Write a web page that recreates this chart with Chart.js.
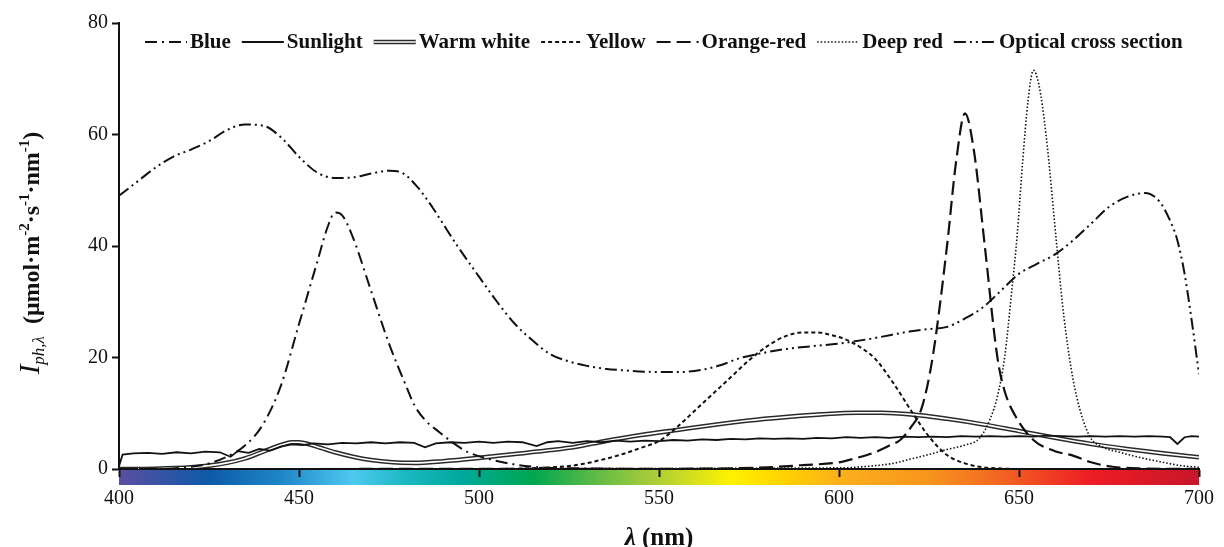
<!DOCTYPE html>
<html>
<head>
<meta charset="utf-8">
<script src="https://cdn.jsdelivr.net/npm/chart.js@4.4.1/dist/chart.umd.min.js"></script>
<style>
  html, body { margin: 0; padding: 0; background: #fff; }
  #wrap { width: 1224px; height: 547px; }
</style>
</head>
<body>
<div id="wrap"><canvas id="spectra" width="1224" height="547"></canvas></div>
<script>
// wavelength ticks
const xTicks = [400, 450, 500, 550, 600, 650, 700];
const yTicks = [0, 20, 40, 60, 80];

// series (nm, value)
const blueNm = [400, 410, 415, 420, 425, 430, 435, 440, 445, 450, 455, 458, 460, 462, 465, 470, 475, 480, 482, 485, 489, 493, 497, 504, 510, 515, 520, 530, 545, 560, 600, 700];
const blueVal = [0, 0, 0.1, 0.4, 1.0, 2.2, 4.2, 8, 15, 26, 37, 43.5, 46, 45.5, 41.5, 32, 22.5, 14.5, 11.5, 8.8, 6.6, 4.6, 3.0, 1.6, 0.8, 0.4, 0.2, 0.1, 0, 0, 0, 0];

const sunNm = [400, 401, 404, 408, 412, 416, 420, 424, 428, 431, 433, 436, 439, 442, 445, 448, 451, 454, 458, 462, 466, 470, 474, 478, 482, 485, 488, 492, 496, 500, 504, 508, 512, 516, 519, 522, 526, 530, 534, 538, 542, 546, 550, 554, 558, 562, 566, 570, 574, 578, 582, 586, 590, 594, 598, 602, 606, 610, 614, 618, 622, 626, 630, 634, 638, 642, 646, 650, 654, 658, 662, 666, 670, 674, 678, 682, 686, 690, 692, 694, 696, 698, 700];
const sunVal = [0.5, 2.6, 2.8, 2.9, 2.7, 3.0, 2.8, 3.1, 3.0, 2.2, 3.2, 2.9, 3.6, 3.3, 4.0, 4.4, 4.3, 4.6, 4.4, 4.7, 4.6, 4.8, 4.6, 4.8, 4.7, 3.9, 4.6, 4.8, 4.7, 4.9, 4.7, 4.9, 4.8, 4.1, 4.8, 5.0, 4.7, 5.0, 4.8, 5.1, 4.9, 5.1, 5.0, 5.2, 5.1, 5.3, 5.2, 5.4, 5.3, 5.5, 5.4, 5.5, 5.4, 5.6, 5.5, 5.7, 5.6, 5.7, 5.6, 5.8, 5.7, 5.8, 5.7, 5.9, 5.8, 5.9, 5.8, 5.9, 5.8, 6.0, 5.9, 5.8, 5.9, 5.8, 5.9, 5.8, 5.9, 5.8, 5.7, 4.5, 5.7, 5.9, 5.8];

const warmNm = [400, 410, 420, 425, 430, 435, 440, 445, 448, 450, 453, 456, 460, 465, 470, 476, 482, 490, 500, 510, 520, 527, 535, 545, 555, 565, 575, 585, 595, 605, 612, 620, 630, 640, 650, 660, 670, 680, 690, 700];
const warmVal = [0, 0.05, 0.3, 0.6, 1.1, 1.9, 3.1, 4.3, 4.8, 4.8, 4.4, 3.8, 3.0, 2.2, 1.6, 1.2, 1.1, 1.4, 2.0, 2.7, 3.4, 4.0, 5.0, 6.1, 7.0, 7.9, 8.7, 9.3, 9.8, 10.1, 10.1, 9.8, 9.0, 8.0, 6.8, 5.6, 4.5, 3.6, 2.8, 2.1];

const yellowNm = [400, 500, 510, 520, 527, 535, 540, 545, 550, 555, 560, 565, 570, 575, 580, 585, 590, 594, 598, 602, 606, 610, 615, 620, 625, 630, 635, 640, 645, 650, 660, 700];
const yellowVal = [0, 0, 0.05, 0.3, 0.7, 1.8, 2.7, 3.8, 5.0, 7.5, 10.5, 13.5, 16.5, 19.5, 22, 23.8, 24.5, 24.5, 24, 23.2, 21.8, 19.8, 15.5, 10.5, 5.8, 2.5, 1.0, 0.3, 0.1, 0, 0, 0];

const orangeNm = [400, 560, 580, 590, 600, 605, 610, 614, 617, 620, 623, 626, 630, 632.5, 635, 637.5, 640.5, 644, 646, 649, 654, 660, 665, 670, 676, 685, 700];
const orangeVal = [0, 0.05, 0.3, 0.7, 1.2, 2.0, 3.0, 4.2, 5.2, 7.5, 11, 20, 40, 55, 63.8, 57, 40, 20, 14, 9.5, 5.2, 3.2, 2.4, 1.2, 0.4, 0.1, 0];

const deepNm = [400, 600, 610, 615, 620, 625, 630, 635, 639, 642, 644, 646, 648, 649.5, 651, 652.5, 654, 655.5, 657.5, 660.5, 662, 664, 666, 669.5, 673, 678, 684, 690, 695, 700];
const deepVal = [0, 0.2, 0.6, 1.0, 1.8, 2.6, 3.5, 4.3, 5.5, 9, 13, 20, 32, 42, 55, 66, 71.5, 69, 60, 40, 30, 20, 13, 6, 4, 3, 2, 1.2, 0.6, 0.3];

const opticNm = [400, 405, 410, 415, 420, 425, 430, 435, 440, 445, 450, 455, 460, 465, 470, 475, 479, 483, 487, 490, 494, 500, 505, 510, 515, 520, 525, 530, 535, 540, 550, 556, 562, 567, 572, 578, 585, 592, 600, 610, 620, 625, 630, 635, 640, 645, 650, 655, 660, 665, 670, 675, 680, 685, 689, 692, 694, 696, 698, 700];
const opticVal = [49, 51.5, 54, 56, 57.3, 58.8, 60.8, 61.8, 61.6, 59.5, 56, 53.2, 52.2, 52.3, 53, 53.5, 53, 50.5, 47, 44, 40, 34.5, 30, 26, 23, 20.5, 19.3, 18.5, 18, 17.7, 17.4, 17.4, 17.8, 18.6, 19.8, 20.7, 21.5, 22, 22.5, 23.5, 24.7, 25.1, 25.5, 27, 29, 32, 35, 36.8, 38.5, 41, 44, 47, 48.8, 49.5, 48, 44.5, 41, 35, 26.5, 17];

// spectrum strip under the x axis
const stripNm = [400, 415, 425, 445, 465, 480, 495, 515, 535, 548, 570, 585, 600, 625, 645, 670, 700];
const stripColor = ['#5b4fa0', '#2c55a5', '#0d5aa8', '#1f86c8', '#4ec9f0', '#1ab8c0', '#00a99d', '#00a650', '#6cbe45', '#a8cc3a', '#fff200', '#ffd200', '#fbb01b', '#f7941d', '#f26522', '#ed1c24', '#c8162a'];

const SERIF = '"Liberation Serif", "Times New Roman", serif';

function pts(nm, val) {
  return nm.map((x, i) => ({ x: x, y: val[i] }));
}

// line styles, also used by the legend
const styles = {
  blue: { dash: [12, 5, 2, 5], width: 2 },
  sun: { dash: [], width: 1.8 },
  yellow: { dash: [4, 3], width: 2 },
  orange: { dash: [14, 6], width: 2.2 },
  deep: { dash: [1.5, 2], width: 1.6 },
  optic: { dash: [12, 4, 2, 4, 2, 4], width: 2 }
};

// first entries are drawn on top
const datasets = [
  { label: 'Optical cross section', data: pts(opticNm, opticVal), borderColor: '#111', borderWidth: styles.optic.width, borderDash: styles.optic.dash, cubicInterpolationMode: 'monotone' },
  { label: 'Deep red', data: pts(deepNm, deepVal), borderColor: '#111', borderWidth: styles.deep.width, borderDash: styles.deep.dash, cubicInterpolationMode: 'monotone' },
  { label: 'Orange-red', data: pts(orangeNm, orangeVal), borderColor: '#111', borderWidth: styles.orange.width, borderDash: styles.orange.dash, cubicInterpolationMode: 'monotone' },
  { label: 'Yellow', data: pts(yellowNm, yellowVal), borderColor: '#111', borderWidth: styles.yellow.width, borderDash: styles.yellow.dash, cubicInterpolationMode: 'monotone' },
  { label: 'Blue', data: pts(blueNm, blueVal), borderColor: '#111', borderWidth: styles.blue.width, borderDash: styles.blue.dash, cubicInterpolationMode: 'monotone' },
  { label: 'Sunlight', data: pts(sunNm, sunVal), borderColor: '#111', borderWidth: styles.sun.width, tension: 0 },
  { label: 'Warm white inner', data: pts(warmNm, warmVal), borderColor: '#fff', borderWidth: 1.6, cubicInterpolationMode: 'monotone' },
  { label: 'Warm white', data: pts(warmNm, warmVal), borderColor: '#2a2a2a', borderWidth: 4.6, cubicInterpolationMode: 'monotone' }
];

const legendItems = [
  { text: 'Blue', style: 'blue' },
  { text: 'Sunlight', style: 'sun' },
  { text: 'Warm white', style: 'warm' },
  { text: 'Yellow', style: 'yellow' },
  { text: 'Orange-red', style: 'orange' },
  { text: 'Deep red', style: 'deep' },
  { text: 'Optical cross section', style: 'optic' }
];

// colour strip, drawn before the axes so the ticks sit on top
const stripPlugin = {
  id: 'strip',
  beforeDraw(chart) {
    const ctx = chart.ctx;
    const xs = chart.scales.x;
    const x0 = xs.getPixelForValue(400), x1 = xs.getPixelForValue(700);
    const top = chart.chartArea.bottom + 1;
    const g = ctx.createLinearGradient(x0, 0, x1, 0);
    stripNm.forEach((nm, i) => g.addColorStop((nm - 400) / 300, stripColor[i]));
    ctx.save();
    ctx.fillStyle = g;
    ctx.fillRect(x0, top, x1 - x0, 15);
    ctx.restore();
  }
};

function sampleLine(ctx, style, x, y, w) {
  ctx.save();
  if (style === 'warm') {
    ctx.strokeStyle = '#2a2a2a'; ctx.lineWidth = 4.6;
    ctx.beginPath(); ctx.moveTo(x, y); ctx.lineTo(x + w, y); ctx.stroke();
    ctx.strokeStyle = '#fff'; ctx.lineWidth = 1.6;
    ctx.beginPath(); ctx.moveTo(x, y); ctx.lineTo(x + w, y); ctx.stroke();
  } else {
    const s = styles[style];
    ctx.strokeStyle = '#111'; ctx.lineWidth = s.width;
    ctx.setLineDash(s.dash);
    ctx.beginPath(); ctx.moveTo(x, y); ctx.lineTo(x + w, y); ctx.stroke();
  }
  ctx.restore();
}

// legend, axis titles
const textPlugin = {
  id: 'texts',
  afterDraw(chart) {
    const ctx = chart.ctx;
    const area = chart.chartArea;
    ctx.save();
    // legend
    ctx.font = 'bold 21px ' + SERIF;
    ctx.textBaseline = 'middle';
    ctx.fillStyle = '#111';
    let x = 145;
    const ly = 42;
    legendItems.forEach(it => {
      sampleLine(ctx, it.style, x, ly, 42);
      x += 45;
      ctx.fillText(it.text, x, ly + 1);
      x += ctx.measureText(it.text).width + 11;
    });

    // x title
    ctx.textBaseline = 'alphabetic';
    const cx = (area.left + area.right) / 2;
    ctx.font = 'bold italic 25px ' + SERIF;
    const w1 = ctx.measureText('λ').width;
    ctx.font = 'bold 25px ' + SERIF;
    const w2 = ctx.measureText(' (nm)').width;
    let sx = cx - (w1 + w2) / 2;
    ctx.font = 'bold italic 25px ' + SERIF;
    ctx.fillText('λ', sx, 545);
    ctx.font = 'bold 25px ' + SERIF;
    ctx.fillText(' (nm)', sx + w1, 545);

    // y title, rotated
    const parts = [
      { t: 'I', f: 'italic 29px ', dy: 0 },
      { t: 'ph,λ', f: 'italic 17px ', dy: 5 },
      { t: '  (μmol·m', f: 'bold 24px ', dy: 0 },
      { t: '-2', f: 'bold 15px ', dy: -10 },
      { t: '·s', f: 'bold 24px ', dy: 0 },
      { t: '-1', f: 'bold 15px ', dy: -10 },
      { t: '·nm', f: 'bold 24px ', dy: 0 },
      { t: '-1', f: 'bold 15px ', dy: -10 },
      { t: ')', f: 'bold 24px ', dy: 0 }
    ];
    let total = 0;
    parts.forEach(p => { ctx.font = p.f + SERIF; p.w = ctx.measureText(p.t).width; total += p.w; });
    ctx.translate(39, 253);
    ctx.rotate(-Math.PI / 2);
    let px = -total / 2;
    parts.forEach(p => {
      ctx.font = p.f + SERIF;
      ctx.fillText(p.t, px, p.dy);
      px += p.w;
    });
    ctx.restore();
  }
};

new Chart(document.getElementById('spectra'), {
  type: 'line',
  data: { datasets: datasets },
  plugins: [stripPlugin, textPlugin],
  options: {
    responsive: false,
    animation: false,
    events: [],
    layout: { padding: { top: 23, right: 19, left: 0, bottom: 0 } },
    elements: { point: { radius: 0 } },
    plugins: { legend: { display: false }, tooltip: { enabled: false } },
    scales: {
      x: {
        type: 'linear',
        min: 400,
        max: 700,
        afterBuildTicks: s => { s.ticks = xTicks.map(v => ({ value: v })); },
        ticks: { color: '#111', font: { family: SERIF, size: 20 }, padding: 10, maxRotation: 0 },
        grid: { drawOnChartArea: false, drawTicks: true, tickLength: 8, tickColor: '#111', tickWidth: 2 },
        border: { display: true, color: '#111', width: 2 },
        afterFit: s => { s.height = 78; }
      },
      y: {
        min: 0,
        max: 80,
        afterBuildTicks: s => { s.ticks = yTicks.map(v => ({ value: v })); },
        ticks: { color: '#111', font: { family: SERIF, size: 20 }, padding: 4 },
        grid: { drawOnChartArea: false, drawTicks: true, tickLength: 7, tickColor: '#111', tickWidth: 2 },
        border: { display: true, color: '#111', width: 2 },
        afterFit: s => { s.width = 119; }
      }
    }
  }
});
</script>
</body>
</html>
